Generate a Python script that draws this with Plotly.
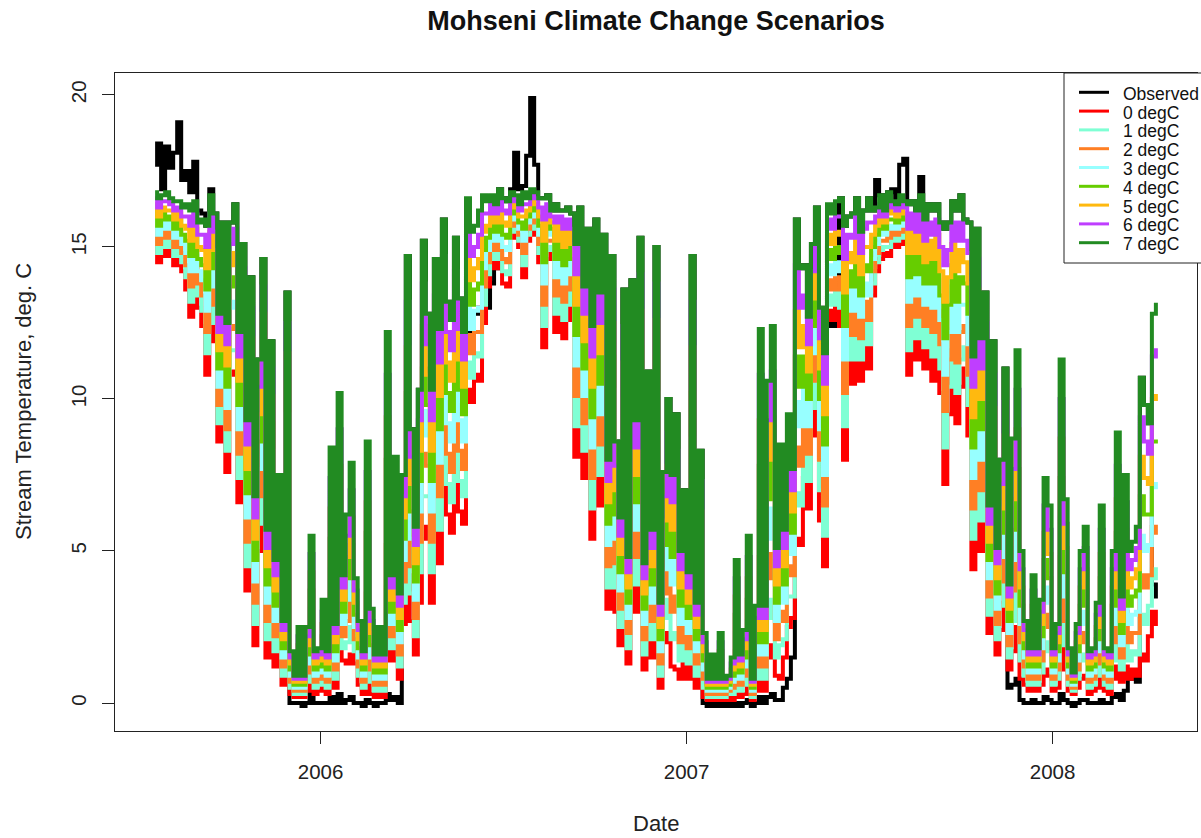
import pandas as pd
import plotly.graph_objects as go

# Stream temperature record, one value every 4 days starting 20 Jul 2005
start_date = "2005-07-20"
n_points = 251
dates = pd.date_range(start_date, periods=n_points, freq="4D")

observed = [
    17.7, 18.4, 16.9, 18.3, 17.6, 18.1, 19.1, 17.2, 17.5, 16.8,
    17.8, 16.2, 16.1, 15.7, 16.9, 16.1, 12.8, 15.8, 12.5, 15.8,
    16.4, 12.2, 15.1, 9.3, 14.0, 6.8, 11.3, 14.6, 5.7, 11.9,
    4.7, 7.5, 2.7, 13.5, 0.0, 0.0, 0.0, -0.1, 0.0, 0.3,
    0.0, 0.0, 0.0, 0.0, 0.2, 0.0, 0.3, 0.0, 0.1, 0.2,
    0.0, 0.0, -0.1, 0.1, 0.0, -0.1, 0.0, 0.0, 0.3, 0.1,
    0.2, 0.0, 7.5, 14.7, 9.0, 5.8, 10.3, 15.2, 12.8, 10.3,
    14.6, 12.3, 15.9, 13.2, 12.6, 15.3, 13.3, 12.2, 12.0, 12.3,
    12.8, 13.0, 13.4, 13.0, 13.8, 14.3, 16.9, 16.6, 16.5, 16.9,
    18.1, 16.9, 17.0, 18.0, 19.9, 17.7, 16.6, 16.6, 16.7, 16.2,
    16.4, 16.2, 16.2, 16.3, 16.1, 15.1, 16.3, 13.7, 15.6, 12.4,
    15.9, 13.5, 15.4, 8.0, 14.7, 8.6, 6.1, 13.6, 4.8, 13.9,
    9.3, 15.3, 4.6, 10.9, 5.7, 15.0, 3.3, 7.6, 10.0, 7.5,
    9.5, 5.0, 7.0, 4.3, 14.7, 3.3, 8.3, 0.0, -0.1, 0.0,
    -0.1, 0.0, -0.1, 0.0, -0.1, 0.0, -0.1, 0.0, 0.1, -0.1,
    0.0, 0.2, 0.0, 0.2, 0.3, 0.1, 0.1, 0.5, 0.8, 1.5,
    15.9, 14.3, 14.4, 12.7, 15.1, 16.3, 13.0, 11.5, 12.5, 12.4,
    12.5, 16.6, 15.7, 16.0, 16.1, 16.6, 15.5, 16.2, 16.6, 16.2,
    17.2, 16.7, 16.2, 16.8, 16.9, 16.4, 17.7, 17.9, 16.4, 16.5,
    16.2, 17.3, 15.9, 16.4, 16.2, 16.4, 15.8, 15.6, 15.8, 16.5,
    16.2, 16.7, 15.9, 15.8, 11.4, 15.6, 12.0, 13.5, 6.5, 11.9,
    5.1, 8.0, 11.0, 0.5, 0.6, 0.8, 0.1, 0.0, 0.0, 0.1,
    0.0, 0.0, 0.2, 0.1, 0.0, 0.0, 0.3, 0.1, 0.0, -0.1,
    0.0, 0.1, 0.1, 0.0, 0.0, 0.0, 0.1, 0.0, 0.0, 0.2,
    0.3, 0.1, 0.4, 0.8, 0.9, 0.7, 10.7, 9.8, 9.2, 3.9,
    3.5,
]

deg0 = [
    15.4, 14.5, 15.3, 14.7, 15.2, 14.4, 15.1, 14.2, 13.6, 12.7,
    14.4, 13.0, 12.4, 10.8, 12.5, 11.9, 8.6, 11.6, 7.6, 10.9,
    10.8, 6.6, 9.5, 3.7, 7.0, 1.9, 5.0, 8.3, 1.5, 5.6,
    1.2, 2.6, 0.6, 6.5, 0.3, 0.2, 0.4, 0.2, 0.4, 1.3,
    0.3, 0.4, 0.6, 0.3, 1.4, 0.5, 1.8, 1.4, 1.3, 1.6,
    1.3, 0.6, 0.3, 1.6, 0.3, 0.2, 0.4, 0.2, 2.4, 1.4,
    1.8, 0.8, 2.6, 4.2, 2.7, 1.6, 3.3, 5.4, 5.8, 3.3,
    6.2, 4.6, 7.5, 6.2, 5.6, 7.6, 6.3, 5.9, 10.3, 9.9,
    10.8, 10.6, 12.5, 13.7, 14.6, 14.3, 14.8, 13.8, 13.7, 15.4,
    15.3, 15.0, 14.0, 15.2, 15.5, 15.4, 14.5, 11.7, 14.6, 14.8,
    12.2, 14.8, 12.0, 13.5, 12.6, 8.1, 11.4, 7.4, 10.7, 5.4,
    9.6, 6.5, 8.4, 3.1, 7.0, 3.0, 1.9, 5.2, 1.3, 5.5,
    3.0, 6.9, 1.1, 3.9, 1.5, 6.6, 0.5, 2.0, 2.3, 1.2,
    1.1, 0.8, 1.4, 0.8, 4.2, 0.5, 1.3, 0.2, 0.1, 0.2,
    0.1, 0.2, 0.1, 0.2, 0.1, 0.5, 0.2, 0.3, 0.6, 0.1,
    0.4, 1.8, 0.4, 1.5, 1.9, 0.9, 0.8, 1.5, 2.5, 2.8,
    5.4, 5.2, 7.4, 6.4, 8.8, 10.7, 6.0, 4.5, 12.9, 12.6,
    13.0, 12.4, 8.0, 11.8, 10.5, 12.4, 10.6, 12.0, 11.0, 13.4,
    14.2, 14.6, 14.8, 14.7, 15.1, 15.0, 15.3, 15.1, 10.8, 13.7,
    11.3, 13.9, 11.0, 12.2, 10.6, 12.9, 10.2, 7.2, 9.5, 11.6,
    9.2, 10.4, 11.0, 8.8, 4.4, 8.6, 5.0, 6.5, 2.3, 4.2,
    1.6, 2.4, 3.3, 1.1, 1.7, 2.5, 0.8, 0.6, 0.4, 0.7,
    0.4, 0.6, 1.1, 0.9, 0.4, 0.5, 2.2, 1.1, 0.4, 0.3,
    0.5, 0.8, 0.9, 0.3, 0.4, 0.5, 0.9, 0.4, 0.3, 0.8,
    1.2, 0.7, 1.2, 0.8, 1.1, 0.9, 1.6, 1.4, 2.2, 3.0,
    2.6,
]

deg1 = [
    15.6, 14.8, 15.5, 15.0, 15.4, 14.7, 15.3, 14.5, 14.0, 13.2,
    14.7, 13.4, 12.9, 11.5, 13.1, 12.5, 9.2, 12.2, 8.3, 11.6,
    11.6, 7.4, 10.3, 4.5, 8.0, 2.6, 5.9, 9.2, 2.1, 6.5,
    1.7, 3.3, 0.9, 7.5, 0.5, 0.3, 0.7, 0.3, 0.7, 1.9,
    0.5, 0.6, 1.0, 0.5, 2.4, 0.8, 3.0, 1.8, 2.0, 2.5,
    1.7, 0.9, 0.5, 2.6, 0.7, 0.4, 0.7, 0.4, 3.8, 1.8,
    2.7, 1.2, 3.3, 5.7, 3.6, 2.2, 4.3, 6.8, 6.8, 4.3,
    7.4, 5.7, 8.7, 7.2, 6.6, 8.7, 7.3, 6.8, 11.2, 10.7,
    11.5, 11.4, 13.1, 14.1, 14.9, 14.6, 15.1, 14.2, 14.1, 15.6,
    15.5, 15.2, 14.4, 15.4, 15.7, 15.6, 14.8, 12.4, 14.9, 15.0,
    12.8, 15.0, 12.6, 13.9, 13.1, 9.1, 12.1, 8.3, 11.4, 6.4,
    10.5, 7.5, 9.4, 3.8, 8.1, 3.8, 2.5, 6.4, 1.8, 6.7,
    3.9, 8.1, 1.6, 4.9, 2.1, 7.8, 0.9, 2.8, 3.4, 2.1,
    2.3, 1.4, 2.2, 1.3, 5.7, 0.9, 2.3, 0.5, 0.2, 0.4,
    0.2, 0.5, 0.2, 0.3, 0.3, 1.1, 0.4, 0.6, 1.3, 0.2,
    0.8, 3.3, 0.8, 2.8, 3.4, 1.5, 1.9, 2.1, 3.5, 3.5,
    6.9, 6.5, 8.4, 7.3, 9.7, 11.5, 7.0, 5.5, 13.4, 13.1,
    13.5, 13.0, 9.1, 12.4, 11.3, 13.0, 11.3, 12.6, 11.8, 13.8,
    14.5, 14.9, 15.0, 15.0, 15.3, 15.2, 15.5, 15.3, 11.6, 14.1,
    12.0, 14.3, 11.7, 12.8, 11.4, 13.4, 11.0, 8.4, 10.4, 12.3,
    10.2, 11.3, 11.7, 9.8, 5.4, 9.6, 6.0, 7.5, 2.9, 5.3,
    2.1, 3.2, 4.4, 1.5, 2.7, 3.8, 1.4, 0.9, 0.6, 1.2,
    0.6, 1.0, 2.0, 1.7, 0.6, 0.8, 3.5, 1.9, 0.6, 0.4,
    0.8, 1.4, 1.6, 0.5, 0.6, 0.9, 1.7, 0.6, 0.5, 1.4,
    2.3, 1.1, 2.1, 1.4, 1.7, 1.6, 2.9, 2.6, 3.2, 4.4,
    4.1,
]

deg2 = [
    15.8, 15.1, 15.7, 15.3, 15.6, 15.0, 15.5, 14.8, 14.4, 13.7,
    15.0, 13.8, 13.4, 12.2, 13.7, 13.1, 9.8, 12.8, 9.0, 12.3,
    12.4, 8.2, 11.1, 5.3, 9.0, 3.3, 6.8, 10.1, 2.7, 7.4,
    2.2, 4.0, 1.2, 8.5, 0.7, 0.4, 1.0, 0.4, 1.0, 2.5,
    0.7, 0.8, 1.4, 0.7, 3.4, 1.1, 4.2, 2.2, 2.7, 3.4,
    2.1, 1.2, 0.7, 3.6, 1.1, 0.6, 1.0, 0.6, 5.2, 2.2,
    3.6, 1.6, 4.0, 7.2, 4.5, 2.8, 5.3, 8.2, 7.8, 5.3,
    8.6, 6.8, 9.9, 8.2, 7.6, 9.8, 8.3, 7.7, 12.1, 11.5,
    12.2, 12.2, 13.7, 14.5, 15.2, 14.9, 15.4, 14.6, 14.5, 15.8,
    15.7, 15.4, 14.8, 15.6, 15.9, 15.8, 15.1, 13.1, 15.2, 15.2,
    13.4, 15.2, 13.2, 14.3, 13.6, 10.1, 12.8, 9.2, 12.1, 7.4,
    11.4, 8.5, 10.4, 4.5, 9.2, 4.6, 3.1, 7.6, 2.3, 7.9,
    4.8, 9.3, 2.1, 5.9, 2.7, 9.0, 1.3, 3.6, 4.5, 3.0,
    3.5, 2.0, 3.0, 1.8, 7.2, 1.3, 3.3, 0.8, 0.3, 0.6,
    0.3, 0.8, 0.3, 0.4, 0.5, 1.7, 0.6, 0.9, 2.0, 0.3,
    1.2, 4.8, 1.2, 4.1, 4.9, 2.1, 3.0, 2.7, 4.5, 4.2,
    8.4, 7.8, 9.4, 8.2, 10.6, 12.3, 8.0, 6.5, 13.9, 13.6,
    14.0, 13.6, 10.2, 13.0, 12.1, 13.6, 12.0, 13.2, 12.6, 14.2,
    14.8, 15.2, 15.2, 15.3, 15.5, 15.4, 15.7, 15.5, 12.4, 14.5,
    12.7, 14.7, 12.4, 13.4, 12.2, 13.9, 11.8, 9.6, 11.3, 13.0,
    11.2, 12.2, 12.4, 10.8, 6.4, 10.6, 7.0, 8.5, 3.5, 6.4,
    2.6, 4.0, 5.5, 1.9, 3.7, 5.1, 2.0, 1.2, 0.8, 1.7,
    0.8, 1.4, 2.9, 2.5, 0.8, 1.1, 4.8, 2.7, 0.8, 0.5,
    1.1, 2.0, 2.3, 0.7, 0.8, 1.3, 2.5, 0.8, 0.7, 2.0,
    3.4, 1.5, 3.0, 2.0, 2.3, 2.3, 4.2, 3.8, 4.2, 5.8,
    5.6,
]

deg3 = [
    16.0, 15.4, 15.9, 15.6, 15.8, 15.3, 15.7, 15.1, 14.8, 14.2,
    15.3, 14.2, 13.9, 12.9, 14.3, 13.7, 10.4, 13.4, 9.7, 13.0,
    13.2, 9.0, 11.9, 6.1, 10.0, 4.0, 7.7, 11.0, 3.3, 8.3,
    2.7, 4.7, 1.5, 9.5, 0.9, 0.5, 1.3, 0.5, 1.3, 3.1,
    0.9, 1.0, 1.8, 0.9, 4.4, 1.4, 5.4, 2.6, 3.4, 4.3,
    2.5, 1.5, 0.9, 4.6, 1.5, 0.8, 1.3, 0.8, 6.6, 2.6,
    4.5, 2.0, 4.7, 8.7, 5.4, 3.4, 6.3, 9.6, 8.8, 6.3,
    9.8, 7.9, 11.1, 9.2, 8.6, 10.9, 9.3, 8.6, 13.0, 12.3,
    12.9, 13.0, 14.3, 14.9, 15.5, 15.2, 15.7, 15.0, 14.9, 16.0,
    15.9, 15.6, 15.2, 15.8, 16.1, 16.0, 15.4, 13.8, 15.5, 15.4,
    14.0, 15.4, 13.8, 14.7, 14.1, 11.1, 13.5, 10.1, 12.8, 8.4,
    12.3, 9.5, 11.4, 5.2, 10.3, 5.4, 3.7, 8.8, 2.8, 9.1,
    5.7, 10.5, 2.6, 6.9, 3.3, 10.2, 1.7, 4.4, 5.6, 3.9,
    4.7, 2.6, 3.8, 2.3, 8.7, 1.7, 4.3, 1.1, 0.4, 0.8,
    0.4, 1.1, 0.4, 0.5, 0.7, 2.3, 0.8, 1.2, 2.7, 0.4,
    1.6, 6.3, 1.6, 5.4, 6.4, 2.7, 4.1, 3.3, 5.5, 4.9,
    9.9, 9.1, 10.4, 9.1, 11.5, 13.1, 9.0, 7.5, 14.4, 14.1,
    14.5, 14.2, 11.3, 13.6, 12.9, 14.2, 12.7, 13.8, 13.4, 14.6,
    15.1, 15.5, 15.4, 15.6, 15.7, 15.6, 15.9, 15.7, 13.2, 14.9,
    13.4, 15.1, 13.1, 14.0, 13.0, 14.4, 12.6, 10.8, 12.2, 13.7,
    12.2, 13.1, 13.1, 11.8, 7.4, 11.6, 8.0, 9.5, 4.1, 7.5,
    3.1, 4.8, 6.6, 2.3, 4.7, 6.4, 2.6, 1.5, 1.0, 2.2,
    1.0, 1.8, 3.8, 3.3, 1.0, 1.4, 6.1, 3.5, 1.0, 0.6,
    1.4, 2.6, 3.0, 0.9, 1.0, 1.7, 3.3, 1.0, 0.9, 2.6,
    4.5, 1.9, 3.9, 2.6, 2.9, 3.0, 5.5, 5.0, 5.2, 7.2,
    7.1,
]

deg4 = [
    16.2, 15.7, 16.1, 15.9, 16.0, 15.6, 15.9, 15.4, 15.2, 14.7,
    15.6, 14.6, 14.4, 13.6, 14.9, 14.3, 11.0, 14.0, 10.4, 13.7,
    14.0, 9.8, 12.7, 6.9, 11.0, 4.7, 8.6, 11.9, 3.9, 9.2,
    3.2, 5.4, 1.8, 10.5, 1.1, 0.6, 1.6, 0.6, 1.6, 3.7,
    1.1, 1.2, 2.2, 1.1, 5.4, 1.7, 6.6, 3.0, 4.1, 5.2,
    2.9, 1.8, 1.1, 5.6, 1.9, 1.0, 1.6, 1.0, 8.0, 3.0,
    5.4, 2.4, 5.4, 10.2, 6.3, 4.0, 7.3, 11.0, 9.8, 7.3,
    11.0, 9.0, 12.3, 10.2, 9.6, 12.0, 10.3, 9.5, 13.9, 13.1,
    13.6, 13.8, 14.9, 15.3, 15.8, 15.5, 16.0, 15.4, 15.3, 16.2,
    16.1, 15.8, 15.6, 16.0, 16.3, 16.2, 15.7, 14.5, 15.8, 15.6,
    14.6, 15.6, 14.4, 15.1, 14.6, 12.1, 14.2, 11.0, 13.5, 9.4,
    13.2, 10.5, 12.4, 5.9, 11.4, 6.2, 4.3, 10.0, 3.3, 10.3,
    6.6, 11.7, 3.1, 7.9, 3.9, 11.4, 2.1, 5.2, 6.7, 4.8,
    5.9, 3.2, 4.6, 2.8, 10.2, 2.1, 5.3, 1.4, 0.5, 1.0,
    0.5, 1.4, 0.5, 0.6, 0.9, 2.9, 1.0, 1.5, 3.4, 0.5,
    2.0, 7.8, 2.0, 6.7, 7.9, 3.3, 5.2, 3.9, 6.5, 5.6,
    11.4, 10.4, 11.4, 10.0, 12.4, 13.9, 10.0, 8.5, 14.9, 14.6,
    15.0, 14.8, 12.4, 14.2, 13.7, 14.8, 13.4, 14.4, 14.2, 15.0,
    15.4, 15.8, 15.6, 15.9, 15.9, 15.8, 16.1, 15.9, 14.0, 15.3,
    14.1, 15.5, 13.8, 14.6, 13.8, 14.9, 13.4, 12.0, 13.1, 14.4,
    13.2, 14.0, 13.8, 12.8, 8.4, 12.6, 9.0, 10.5, 4.7, 8.6,
    3.6, 5.6, 7.7, 2.7, 5.7, 7.7, 3.2, 1.8, 1.2, 2.7,
    1.2, 2.2, 4.7, 4.1, 1.2, 1.7, 7.4, 4.3, 1.2, 0.7,
    1.7, 3.2, 3.7, 1.1, 1.2, 2.1, 4.1, 1.2, 1.1, 3.2,
    5.6, 2.3, 4.8, 3.2, 3.5, 3.7, 6.8, 6.2, 6.2, 8.6,
    8.6,
]

deg5 = [
    16.4, 16.0, 16.3, 16.2, 16.2, 15.9, 16.1, 15.7, 15.6, 15.2,
    15.9, 15.0, 14.9, 14.3, 15.5, 14.9, 11.6, 14.6, 11.1, 14.4,
    14.8, 10.6, 13.5, 7.7, 12.0, 5.4, 9.5, 12.8, 4.5, 10.1,
    3.7, 6.1, 2.1, 11.5, 1.3, 0.7, 1.9, 0.7, 1.9, 4.3,
    1.3, 1.4, 2.6, 1.3, 6.4, 2.0, 7.8, 3.4, 4.8, 6.1,
    3.3, 2.1, 1.3, 6.6, 2.3, 1.2, 1.9, 1.2, 9.4, 3.4,
    6.3, 2.8, 6.1, 11.7, 7.2, 4.6, 8.3, 12.4, 10.8, 8.3,
    12.2, 10.1, 13.5, 11.2, 10.6, 13.1, 11.3, 10.4, 14.8, 13.9,
    14.3, 14.6, 15.5, 15.7, 16.1, 15.8, 16.3, 15.8, 15.7, 16.4,
    16.3, 16.0, 16.0, 16.2, 16.5, 16.4, 16.0, 15.2, 16.1, 15.8,
    15.2, 15.8, 15.0, 15.5, 15.1, 13.1, 14.9, 11.9, 14.2, 10.4,
    14.1, 11.5, 13.4, 6.6, 12.5, 7.0, 4.9, 11.2, 3.8, 11.5,
    7.5, 12.9, 3.6, 8.9, 4.5, 12.6, 2.5, 6.0, 7.8, 5.7,
    7.1, 3.8, 5.4, 3.3, 11.7, 2.5, 6.3, 1.7, 0.6, 1.2,
    0.6, 1.7, 0.6, 0.7, 1.1, 3.5, 1.2, 1.8, 4.1, 0.6,
    2.4, 9.3, 2.4, 8.0, 9.4, 3.9, 6.3, 4.5, 7.5, 6.3,
    12.9, 11.7, 12.4, 10.9, 13.3, 14.7, 11.0, 9.5, 15.4, 15.1,
    15.5, 15.4, 13.5, 14.8, 14.5, 15.4, 14.1, 15.0, 15.0, 15.4,
    15.7, 16.1, 15.8, 16.2, 16.1, 16.0, 16.3, 16.1, 14.8, 15.7,
    14.8, 15.9, 14.5, 15.2, 14.6, 15.4, 14.2, 13.2, 14.0, 15.1,
    14.2, 14.9, 14.5, 13.8, 9.4, 13.6, 10.0, 11.5, 5.3, 9.7,
    4.1, 6.4, 8.8, 3.1, 6.7, 9.0, 3.8, 2.1, 1.4, 3.2,
    1.4, 2.6, 5.6, 4.9, 1.4, 2.0, 8.7, 5.1, 1.4, 0.8,
    2.0, 3.8, 4.4, 1.3, 1.4, 2.5, 4.9, 1.4, 1.3, 3.8,
    6.7, 2.7, 5.7, 3.8, 4.1, 4.4, 8.1, 7.4, 7.2, 10.0,
    10.1,
]

deg6 = [
    16.6, 16.3, 16.5, 16.5, 16.4, 16.2, 16.3, 16.0, 16.0, 15.7,
    16.2, 15.4, 15.4, 15.0, 16.1, 15.5, 12.2, 15.2, 11.8, 15.1,
    15.6, 11.4, 14.3, 8.5, 13.0, 6.1, 10.4, 13.7, 5.1, 11.0,
    4.2, 6.8, 2.4, 12.5, 1.5, 0.8, 2.2, 0.8, 2.2, 4.9,
    1.5, 1.6, 3.0, 1.5, 7.4, 2.3, 9.0, 3.8, 5.5, 7.0,
    3.7, 2.4, 1.5, 7.6, 2.7, 1.4, 2.2, 1.4, 10.8, 3.8,
    7.2, 3.2, 6.8, 13.2, 8.1, 5.2, 9.3, 13.8, 11.8, 9.3,
    13.4, 11.2, 14.7, 12.2, 11.6, 14.2, 12.3, 11.3, 15.7, 14.7,
    15.0, 15.4, 16.1, 16.1, 16.4, 16.1, 16.6, 16.2, 16.1, 16.6,
    16.5, 16.2, 16.4, 16.4, 16.7, 16.6, 16.3, 15.9, 16.4, 16.0,
    15.8, 16.0, 15.6, 15.9, 15.6, 14.1, 15.6, 12.8, 14.9, 11.4,
    15.0, 12.5, 14.4, 7.3, 13.6, 7.8, 5.5, 12.4, 4.3, 12.7,
    8.4, 14.1, 4.1, 9.9, 5.1, 13.8, 2.9, 6.8, 8.9, 6.6,
    8.3, 4.4, 6.2, 3.8, 13.2, 2.9, 7.3, 2.0, 0.7, 1.4,
    0.7, 2.0, 0.7, 0.8, 1.3, 4.1, 1.4, 2.1, 4.8, 0.7,
    2.8, 10.8, 2.8, 9.3, 10.9, 4.5, 7.4, 5.1, 8.5, 7.0,
    14.4, 13.0, 13.4, 11.8, 14.2, 15.5, 12.0, 10.5, 15.9, 15.6,
    16.0, 16.0, 14.6, 15.4, 15.3, 16.0, 14.8, 15.6, 15.8, 15.8,
    16.0, 16.4, 16.0, 16.5, 16.3, 16.2, 16.5, 16.3, 15.6, 16.1,
    15.5, 16.3, 15.2, 15.8, 15.4, 15.9, 15.0, 14.4, 14.9, 15.8,
    15.2, 15.8, 15.2, 14.8, 10.4, 14.6, 11.0, 12.5, 5.9, 10.8,
    4.6, 7.2, 9.9, 3.5, 7.7, 10.3, 4.4, 2.4, 1.6, 3.7,
    1.6, 3.0, 6.5, 5.7, 1.6, 2.3, 10.0, 5.9, 1.6, 0.9,
    2.3, 4.4, 5.1, 1.5, 1.6, 2.9, 5.7, 1.6, 1.5, 4.4,
    7.8, 3.1, 6.6, 4.4, 4.7, 5.1, 9.4, 8.6, 8.2, 11.4,
    11.6,
]

deg7 = [
    16.8, 16.6, 16.7, 16.8, 16.6, 16.5, 16.5, 16.3, 16.4, 16.2,
    16.5, 15.8, 15.9, 15.7, 16.7, 16.1, 12.8, 15.8, 12.5, 15.8,
    16.4, 12.2, 15.1, 9.3, 14.0, 6.8, 11.3, 14.6, 5.7, 11.9,
    4.7, 7.5, 2.7, 13.5, 1.7, 0.9, 2.5, 0.9, 2.5, 5.5,
    1.7, 1.8, 3.4, 1.7, 8.4, 2.6, 10.2, 4.2, 6.2, 7.9,
    4.1, 2.7, 1.7, 8.6, 3.1, 1.6, 2.5, 1.6, 12.2, 4.2,
    8.1, 3.6, 7.5, 14.7, 9.0, 5.8, 10.3, 15.2, 12.8, 10.3,
    14.6, 12.3, 15.9, 13.2, 12.6, 15.3, 13.3, 12.2, 16.6, 15.5,
    15.7, 16.2, 16.7, 16.5, 16.7, 16.4, 16.9, 16.6, 16.5, 16.8,
    16.7, 16.4, 16.8, 16.6, 16.9, 16.8, 16.6, 16.6, 16.7, 16.2,
    16.4, 16.2, 16.2, 16.3, 16.1, 15.1, 16.3, 13.7, 15.6, 12.4,
    15.9, 13.5, 15.4, 8.0, 14.7, 8.6, 6.1, 13.6, 4.8, 13.9,
    9.3, 15.3, 4.6, 10.9, 5.7, 15.0, 3.3, 7.6, 10.0, 7.5,
    9.5, 5.0, 7.0, 4.3, 14.7, 3.3, 8.3, 2.3, 0.8, 1.6,
    0.8, 2.3, 0.8, 0.9, 1.5, 4.7, 1.6, 2.4, 5.5, 0.8,
    3.2, 12.3, 3.2, 10.6, 12.4, 5.1, 8.5, 5.7, 9.5, 7.7,
    15.9, 14.3, 14.4, 12.7, 15.1, 16.3, 13.0, 11.5, 16.4, 16.1,
    16.5, 16.6, 15.7, 16.0, 16.1, 16.6, 15.5, 16.2, 16.6, 16.2,
    16.3, 16.7, 16.2, 16.8, 16.5, 16.4, 16.7, 16.5, 16.4, 16.5,
    16.2, 16.7, 15.9, 16.4, 16.2, 16.4, 15.8, 15.6, 15.8, 16.5,
    16.2, 16.7, 15.9, 15.8, 11.4, 15.6, 12.0, 13.5, 6.5, 11.9,
    5.1, 8.0, 11.0, 3.9, 8.7, 11.6, 5.0, 2.7, 1.8, 4.2,
    1.8, 3.4, 7.4, 6.5, 1.8, 2.6, 11.3, 6.7, 1.8, 1.0,
    2.6, 5.0, 5.8, 1.7, 1.8, 3.3, 6.5, 1.8, 1.7, 5.0,
    8.9, 3.5, 7.5, 5.0, 5.3, 5.8, 10.7, 9.8, 9.2, 12.8,
    13.1,
]

series_names = ["Observed", "0 degC", "1 degC", "2 degC", "3 degC",
                "4 degC", "5 degC", "6 degC", "7 degC"]
series_values = [observed, deg0, deg1, deg2, deg3, deg4, deg5, deg6, deg7]
series_colors = ["#000000", "#FF0000", "#7FFFD4", "#FF7F24", "#97FFFF",
                 "#66CD00", "#FFB90F", "#BF3EFF", "#228B22"]

year_ticks = ["2006-01-01", "2007-01-01", "2008-01-01"]
year_labels = ["2006", "2007", "2008"]
temp_ticks = [0, 5, 10, 15, 20]

FONT = "Liberation Sans, Arial, Helvetica, sans-serif"
W, H = 1201, 838
PL, PR, PT, PB = 115, 1197, 73, 731  # plot box in pixels


def fx(px):
    return (px - PL) / (PR - PL)


def fy(py):
    return (PB - py) / (PB - PT)


fig = go.Figure()
for name, vals, col in zip(series_names, series_values, series_colors):
    fig.add_trace(go.Scatter(
        x=dates, y=vals, mode="lines", name=name,
        line=dict(color=col, width=4, shape="hvh"),
        showlegend=False,
    ))

axis_common = dict(
    showline=True, mirror=True, linecolor="#222", linewidth=1,
    ticks="outside", ticklen=12, tickwidth=1, tickcolor="#222",
    showgrid=False, zeroline=False,
    tickfont=dict(family=FONT, size=20.5, color="#222"),
)

fig.update_layout(
    width=W, height=H,
    margin=dict(l=PL, r=W - PR, t=PT, b=H - PB, autoexpand=False),
    paper_bgcolor="white", plot_bgcolor="white",
    title=dict(
        text="<b>Mohseni Climate Change Scenarios</b>",
        font=dict(family=FONT, size=27, color="#111"),
        x=0.5, xref="paper", xanchor="center",
        y=1 - 21 / H, yref="container", yanchor="middle",
    ),
    xaxis=dict(
        type="date", range=["2005-06-10", "2008-05-24"],
        tickmode="array", tickvals=year_ticks, ticktext=year_labels,
        ticklabelstandoff=10,
        **axis_common,
    ),
    yaxis=dict(
        range=[-0.92, 20.72], tickmode="array", tickvals=temp_ticks,
        tickangle=-90, ticklabelstandoff=8,
        **axis_common,
    ),
)

annotations = [
    dict(text="Date", x=0.5, y=fy(823), xref="paper", yref="paper",
         xanchor="center", yanchor="middle", showarrow=False,
         font=dict(family=FONT, size=22, color="#222")),
    dict(text="Stream Temperature, deg. C", x=fx(23), y=0.5,
         xref="paper", yref="paper", xanchor="center", yanchor="middle",
         textangle=-90, showarrow=False,
         font=dict(family=FONT, size=22, color="#222")),
]

# Legend box in the top right corner
shapes = [dict(type="rect", xref="paper", yref="paper",
               x0=fx(1064), x1=fx(1240), y0=fy(263), y1=fy(PT),
               line=dict(color="#222", width=1), fillcolor="white",
               layer="above")]
row_y0, row_step = 92.3, 18.8
for k, (name, col) in enumerate(zip(series_names, series_colors)):
    yy = row_y0 + k * row_step
    shapes.append(dict(type="line", xref="paper", yref="paper",
                       x0=fx(1079), x1=fx(1109), y0=fy(yy), y1=fy(yy),
                       line=dict(color=col, width=3), layer="above"))
    annotations.append(dict(text=name, x=fx(1121), y=fy(yy + 1.5),
                            xref="paper", yref="paper", xanchor="left",
                            yanchor="middle", showarrow=False,
                            font=dict(family=FONT, size=17.5, color="#111")))

fig.update_layout(annotations=annotations, shapes=shapes)

fig.write_html("out.html")
